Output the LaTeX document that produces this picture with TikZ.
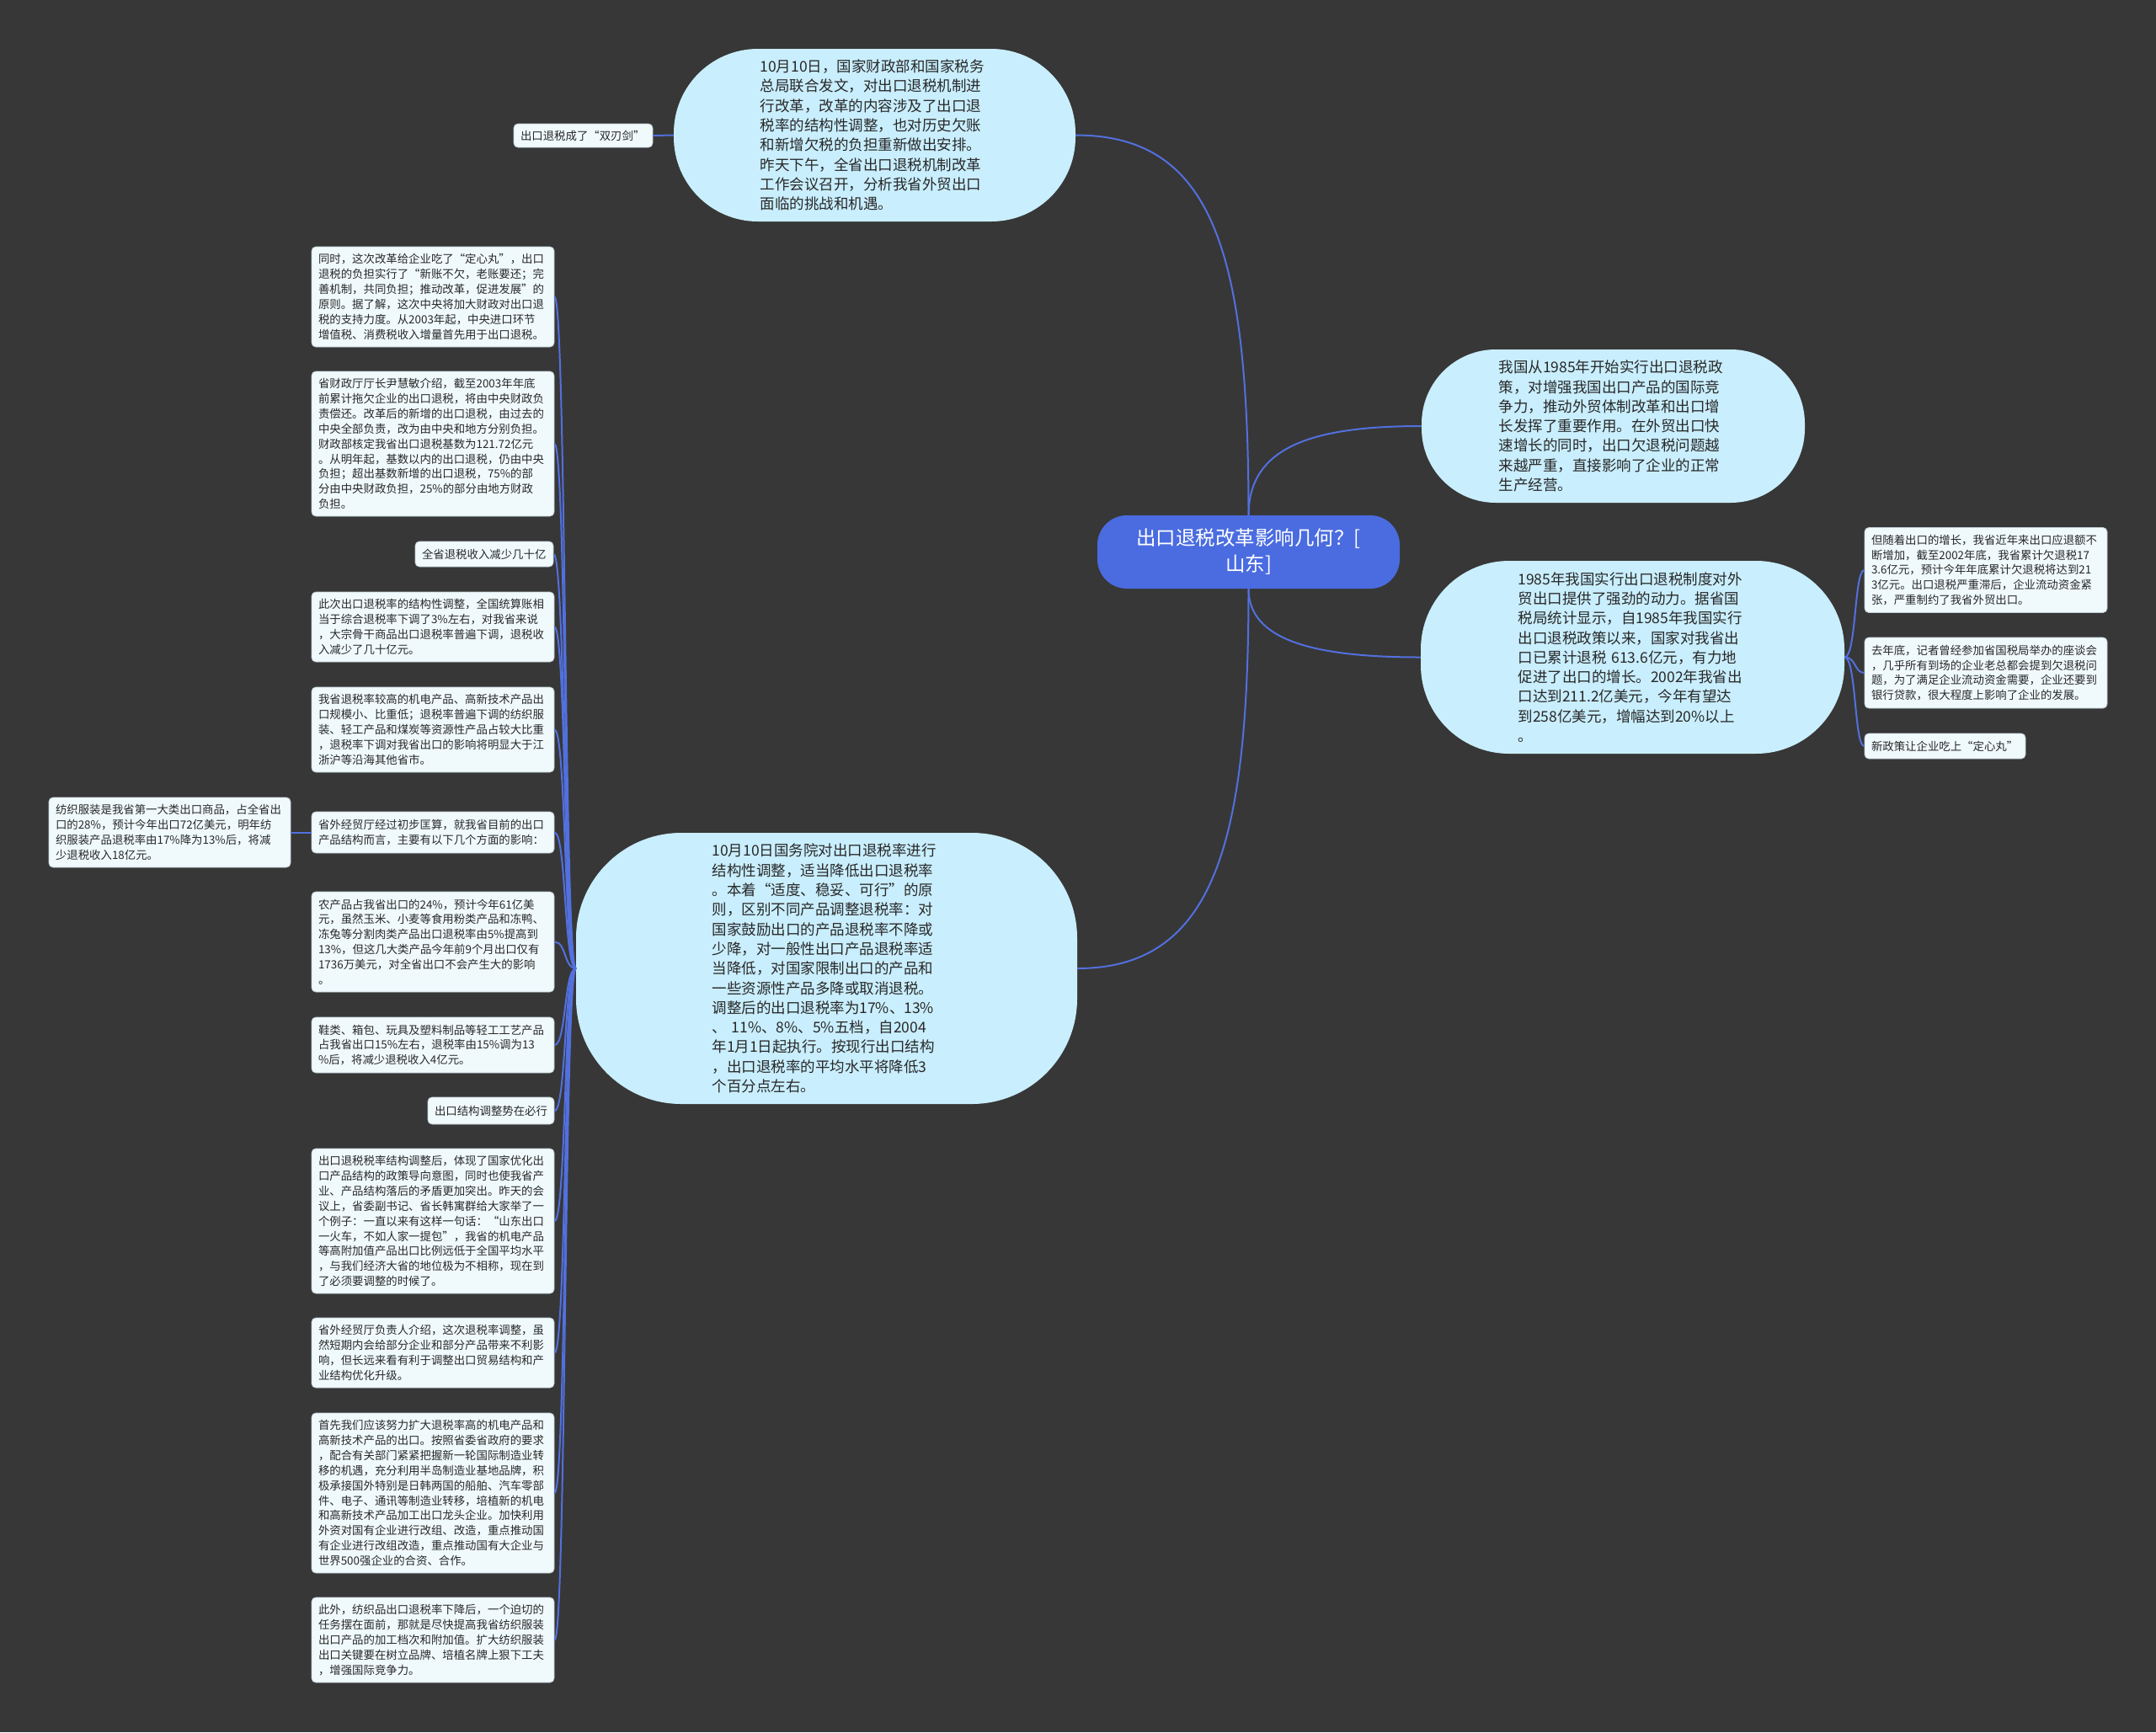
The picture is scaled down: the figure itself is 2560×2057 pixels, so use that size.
\documentclass[tikz,border=0pt]{standalone}
\usepackage{fontspec}
\setmainfont{Noto Sans CJK SC}
\definecolor{bg}{RGB}{55,55,55}
\definecolor{leaffill}{RGB}{240,250,253}
\definecolor{leafline}{RGB}{190,205,212}
\definecolor{bubfill}{RGB}{201,238,253}
\definecolor{rootfill}{RGB}{74,108,224}
\definecolor{linec}{RGB}{82,112,222}
\definecolor{txt}{RGB}{40,40,40}
\begin{document}
\begin{tikzpicture}[x=1pt,y=-1pt,
  leaf/.style={fill=leaffill, draw=leafline, line width=0.8pt, rounded corners=5pt,
    inner sep=0pt, align=left, text=txt, font=\fontsize{13.4}{17.9}\selectfont},
  bub/.style={fill=bubfill, inner sep=0pt, align=left, text=txt,
    font=\fontsize{17.5}{23.3}\selectfont, text width=272pt},
  root/.style={fill=rootfill, rounded corners=35pt, text=white, align=center,
    inner sep=0pt, font=\fontsize{23.5}{31}\selectfont},
  conn/.style={draw=linec, line width=2pt}]
\fill[bg] (0,0) rectangle (2560,2057);
\useasboundingbox (0,0) rectangle (2560,2057);

% root
\node[root, minimum width=359pt, minimum height=87pt] (c) at (1482.5,655.5)
  {出口退税改革影响几何？[\\山东]};

% bubbles
\node[bub, minimum width=477pt, minimum height=205pt, rounded corners=100pt] (top) at (1038.5,160.5)
  {10月10日，国家财政部和国家税务\\总局联合发文，对出口退税机制进\\行改革，改革的内容涉及了出口退\\税率的结构性调整，也对历史欠账\\和新增欠税的负担重新做出安排。\\昨天下午，全省出口退税机制改革\\工作会议召开，分析我省外贸出口\\面临的挑战和机遇。};
\node[bub, minimum width=455pt, minimum height=182pt, rounded corners=88pt] (r1) at (1915.5,506)
  {我国从1985年开始实行出口退税政\\策，对增强我国出口产品的国际竞\\争力，推动外贸体制改革和出口增\\长发挥了重要作用。在外贸出口快\\速增长的同时，出口欠退税问题越\\来越严重，直接影响了企业的正常\\生产经营。};
\node[bub, minimum width=503pt, minimum height=229pt, rounded corners=105pt] (r2) at (1938.5,780.5)
  {1985年我国实行出口退税制度对外\\贸出口提供了强劲的动力。据省国\\税局统计显示，自1985年我国实行\\出口退税政策以来，国家对我省出\\口已累计退税~613.6亿元，有力地\\促进了出口的增长。2002年我省出\\口达到211.2亿美元，今年有望达\\到258亿美元，增幅达到20\%以上\\。};
\node[bub, minimum width=595pt, minimum height=322pt, rounded corners=125pt] (bot) at (981.5,1150)
  {10月10日国务院对出口退税率进行\\结构性调整，适当降低出口退税率\\。本着“适度、稳妥、可行”的原\\则，区别不同产品调整退税率：对\\国家鼓励出口的产品退税率不降或\\少降，对一般性出口产品退税率适\\当降低，对国家限制出口的产品和\\一些资源性产品多降或取消退税。\\调整后的出口退税率为17\%、13\%\\、~11\%、8\%、5\%五档，自2004\\年1月1日起执行。按现行出口结构\\，出口退税率的平均水平将降低3\\个百分点左右。};

% label
\node[leaf, minimum width=165pt, minimum height=28pt, text width=149pt] (lab) at (692.5,161)
  {出口退税成了“双刃剑”};

% left leaves
\node[leaf, minimum width=288pt, minimum height=119pt, text width=272pt] (b1) at (514,352.5)
  {同时，这次改革给企业吃了“定心丸”，出口\\退税的负担实行了“新账不欠，老账要还；完\\善机制，共同负担；推动改革，促进发展”的\\原则。据了解，这次中央将加大财政对出口退\\税的支持力度。从2003年起，中央进口环节\\增值税、消费税收入增量首先用于出口退税。};
\node[leaf, minimum width=288pt, minimum height=172pt, text width=272pt] (b2) at (514,527)
  {省财政厅厅长尹慧敏介绍，截至2003年年底\\前累计拖欠企业的出口退税，将由中央财政负\\责偿还。改革后的新增的出口退税，由过去的\\中央全部负责，改为由中央和地方分别负担。\\财政部核定我省出口退税基数为121.72亿元\\。从明年起，基数以内的出口退税，仍由中央\\负担；超出基数新增的出口退税，75\%的部\\分由中央财政负担，25\%的部分由地方财政\\负担。};
\node[leaf, minimum width=164pt, minimum height=30pt, text width=148pt] (b3) at (575,658)
  {全省退税收入减少几十亿};
\node[leaf, minimum width=288pt, minimum height=83pt, text width=272pt] (b4) at (514,744.5)
  {此次出口退税率的结构性调整，全国统算账相\\当于综合退税率下调了3\%左右，对我省来说\\，大宗骨干商品出口退税率普遍下调，退税收\\入减少了几十亿元。};
\node[leaf, minimum width=288pt, minimum height=101pt, text width=272pt] (b5) at (514,866.5)
  {我省退税率较高的机电产品、高新技术产品出\\口规模小、比重低；退税率普遍下调的纺织服\\装、轻工产品和煤炭等资源性产品占较大比重\\，退税率下调对我省出口的影响将明显大于江\\浙沪等沿海其他省市。};
\node[leaf, minimum width=288pt, minimum height=49pt, text width=272pt] (b6) at (514,988.5)
  {省外经贸厅经过初步匡算，就我省目前的出口\\产品结构而言，主要有以下几个方面的影响：};
\node[leaf, minimum width=287pt, minimum height=83pt, text width=271pt] (b6a) at (201.5,988.5)
  {纺织服装是我省第一大类出口商品，占全省出\\口的28\%，预计今年出口72亿美元，明年纺\\织服装产品退税率由17\%降为13\%后，将减\\少退税收入18亿元。};
\node[leaf, minimum width=288pt, minimum height=119pt, text width=272pt] (b7) at (514,1118.5)
  {农产品占我省出口的24\%，预计今年61亿美\\元，虽然玉米、小麦等食用粉类产品和冻鸭、\\冻兔等分割肉类产品出口退税率由5\%提高到\\13\%，但这几大类产品今年前9个月出口仅有\\1736万美元，对全省出口不会产生大的影响\\。};
\node[leaf, minimum width=288pt, minimum height=66pt, text width=272pt] (b8) at (514,1241)
  {鞋类、箱包、玩具及塑料制品等轻工工艺产品\\占我省出口15\%左右，退税率由15\%调为13\\\%后，将减少退税收入4亿元。};
\node[leaf, minimum width=150pt, minimum height=32pt, text width=134pt] (b9) at (583,1319)
  {出口结构调整势在必行};
\node[leaf, minimum width=288pt, minimum height=172pt, text width=272pt] (b10) at (514,1450)
  {出口退税税率结构调整后，体现了国家优化出\\口产品结构的政策导向意图，同时也使我省产\\业、产品结构落后的矛盾更加突出。昨天的会\\议上，省委副书记、省长韩寓群给大家举了一\\个例子：一直以来有这样一句话：“山东出口\\一火车，不如人家一提包”，我省的机电产品\\等高附加值产品出口比例远低于全国平均水平\\，与我们经济大省的地位极为不相称，现在到\\了必须要调整的时候了。};
\node[leaf, minimum width=288pt, minimum height=83pt, text width=272pt] (b11) at (514,1606.5)
  {省外经贸厅负责人介绍，这次退税率调整，虽\\然短期内会给部分企业和部分产品带来不利影\\响，但长远来看有利于调整出口贸易结构和产\\业结构优化升级。};
\node[leaf, minimum width=288pt, minimum height=190pt, text width=272pt] (b12) at (514,1773)
  {首先我们应该努力扩大退税率高的机电产品和\\高新技术产品的出口。按照省委省政府的要求\\，配合有关部门紧紧把握新一轮国际制造业转\\移的机遇，充分利用半岛制造业基地品牌，积\\极承接国外特别是日韩两国的船舶、汽车零部\\件、电子、通讯等制造业转移，培植新的机电\\和高新技术产品加工出口龙头企业。加快利用\\外资对国有企业进行改组、改造，重点推动国\\有企业进行改组改造，重点推动国有大企业与\\世界500强企业的合资、合作。};
\node[leaf, minimum width=288pt, minimum height=101pt, text width=272pt] (b13) at (514,1947.5)
  {此外，纺织品出口退税率下降后，一个迫切的\\任务摆在面前，那就是尽快提高我省纺织服装\\出口产品的加工档次和附加值。扩大纺织服装\\出口关键要在树立品牌、培植名牌上狠下工夫\\，增强国际竞争力。};

% right leaves
\node[leaf, minimum width=288pt, minimum height=101pt, text width=272pt] (rb1) at (2358,677)
  {但随着出口的增长，我省近年来出口应退额不\\断增加，截至2002年底，我省累计欠退税17\\3.6亿元，预计今年年底累计欠退税将达到21\\3亿元。出口退税严重滞后，企业流动资金紧\\张，严重制约了我省外贸出口。};
\node[leaf, minimum width=288pt, minimum height=84pt, text width=272pt] (rb2) at (2358,799)
  {去年底，记者曾经参加省国税局举办的座谈会\\，几乎所有到场的企业老总都会提到欠退税问\\题，为了满足企业流动资金需要，企业还要到\\银行贷款，很大程度上影响了企业的发展。};
\node[leaf, minimum width=191pt, minimum height=30pt, text width=175pt] (rb3) at (2309.5,886)
  {新政策让企业吃上“定心丸”};

% connectors
\begin{scope}[on background layer/.style={}]
\draw[conn] (c.north) .. controls +(0,-312) and +(163,0) .. (top.east);
\draw[conn] (c.north) .. controls +(0,-82) and +(-128,0) .. (r1.west);
\draw[conn] (c.south) .. controls +(0,61) and +(-127,0) .. (r2.west);
\draw[conn] (c.south) .. controls +(0,301) and +(163,0) .. (bot.east);
\draw[conn] (top.west) -- (lab.east);
\foreach \n in {b1,b2,b3,b4,b5,b6,b7,b8,b9,b10,b11,b12,b13}
  \draw[conn] (bot.west) .. controls +(-14,0) and +(14,0) .. (\n.east);
\draw[conn] (b6.west) -- (b6a.east);
\foreach \n in {rb1,rb2,rb3}
  \draw[conn] (r2.east) .. controls +(14,0) and +(-12,0) .. (\n.west);
\end{scope}
\end{tikzpicture}
\end{document}
